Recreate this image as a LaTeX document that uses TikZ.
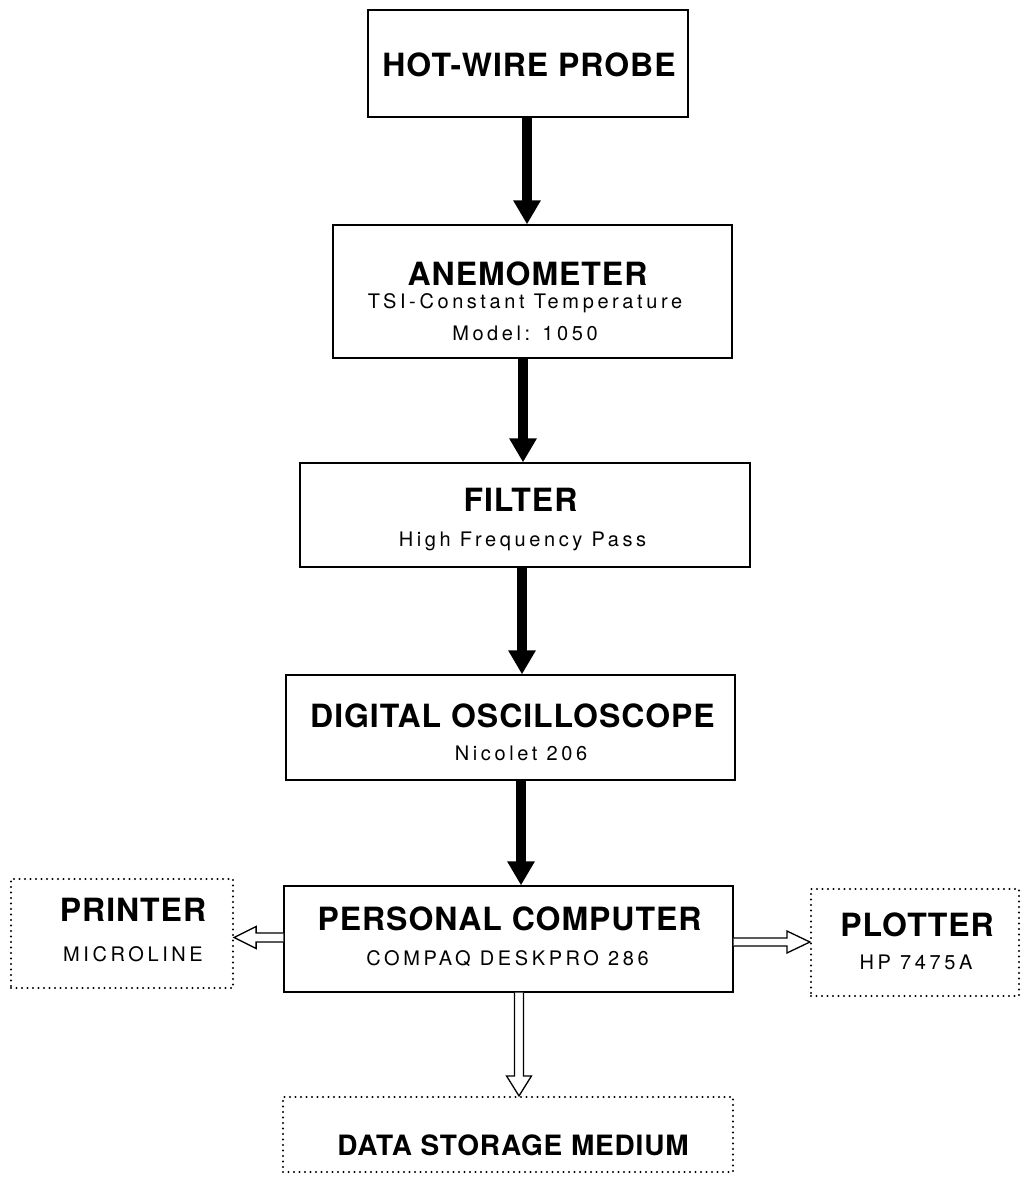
\documentclass[tikz,border=0pt]{standalone}
\usepackage{fontspec}
\setmainfont{TeX Gyre Heros}
\newfontfamily\subfont[LetterSpace=18]{TeX Gyre Heros}
\newfontfamily\ttlfont[LetterSpace=3]{TeX Gyre Heros}
\usetikzlibrary{arrows.meta,calc}
\begin{document}
\begin{tikzpicture}[x=1pt,y=-1pt,
  box/.style={draw,line width=1.3pt,inner sep=0pt,minimum width=#1},
  dotbox/.style={draw,line width=2.2pt,line cap=round,dash pattern=on 0pt off 5.5pt,inner sep=0pt,minimum width=#1},
  ttl/.style={inner sep=0pt,anchor=base,font=\ttlfont\bfseries\fontsize{32}{36}\selectfont},
  sub/.style={inner sep=0pt,anchor=base,font=\subfont\fontsize{20}{22}\selectfont},
  solidarrow/.style={line width=10pt,-{Triangle[width=26pt,length=24pt]}},
  hollow/.style={draw,line width=1.3pt,line join=miter,fill=white}
]
\useasboundingbox (0,0) rectangle (1021,1177);
% boxes
\node[box=320pt,minimum height=107pt] (probe) at (528,63.5) {};
\node[box=399pt,minimum height=133pt] (anem) at (532.5,291.5) {};
\node[box=450pt,minimum height=104pt] (filter) at (525,515) {};
\node[box=449pt,minimum height=105pt] (osc) at (510.5,727.5) {};
\node[box=449pt,minimum height=106pt] (pc) at (508.5,939) {};
\node[dotbox=222pt,minimum height=109pt] (printer) at (122,933.5) {};
\node[dotbox=208pt,minimum height=107pt] (plotter) at (915,942.5) {};
\node[dotbox=450pt,minimum height=75pt] (store) at (508,1134.5) {};
% texts
\node[ttl] (t1) at (529,76.7) {HOT-WIRE PROBE};
\node[ttl] (t2) at (527.5,285.5) {ANEMOMETER};
\node[sub] (s2a) at (525,308.5) {TSI-Constant Temperature};
\node[sub] (s2b) at (525,340) {Model: 1050};
\node[ttl] (t3) at (520.5,511) {FILTER};
\node[sub] (s3) at (522.5,546) {High Frequency Pass};
\node[ttl] (t4) at (512.5,727) {DIGITAL OSCILLOSCOPE};
\node[sub] (s4) at (521,760) {Nicolet 206};
\node[ttl] (t5) at (509.5,930) {PERSONAL COMPUTER};
\node[sub] (s5) at (507.5,965) {COMPAQ DESKPRO 286};
\node[ttl] (t6) at (133,921.7) {PRINTER};
\node[sub] (s6) at (133,961.7) {MICROLINE};
\node[ttl] (t7) at (917,936.7) {PLOTTER};
\node[sub] (s7) at (916,969.3) {HP 7475A};
\node[ttl,font=\ttlfont\bfseries\fontsize{28}{32}\selectfont] (t8) at (513,1155) {DATA STORAGE MEDIUM};
% arrow positions
\coordinate (c1) at (527,0);
\coordinate (c2) at (523,0);
\coordinate (c3) at (522,0);
\coordinate (c4) at (521,0);
\coordinate (c5) at (519,0);
\coordinate (cL) at (0,937.5);
\coordinate (cR) at (0,942);
% solid arrows
\draw[solidarrow] (probe.south -| c1) -- (anem.north -| c1);
\draw[solidarrow] (anem.south -| c2) -- (filter.north -| c2);
\draw[solidarrow] (filter.south -| c3) -- (osc.north -| c3);
\draw[solidarrow] (osc.south -| c4) -- (pc.north -| c4);
% hollow arrows
\draw[hollow] ($(pc.south -| c5)+(-4.5,0)$) -- ($(store.north -| c5)+(-4.5,-20)$) -- ++(-8,0)
  -- (store.north -| c5) -- ($(store.north -| c5)+(12.5,-20)$) -- ++(-8,0) -- ($(pc.south -| c5)+(4.5,0)$);
\draw[hollow] ($(pc.west |- cL)+(0,-4.5)$) -- ($(printer.east |- cL)+(22,-4.5)$) -- ++(0,-6.5)
  -- (printer.east |- cL) -- ($(printer.east |- cL)+(22,11)$) -- ++(0,-6.5) -- ($(pc.west |- cL)+(0,4.5)$);
\draw[hollow] ($(pc.east |- cR)+(0,-4)$) -- ($(plotter.west |- cR)+(-23,-4)$) -- ++(0,-7)
  -- (plotter.west |- cR) -- ($(plotter.west |- cR)+(-23,11)$) -- ++(0,-7) -- ($(pc.east |- cR)+(0,4)$);
\end{tikzpicture}
\end{document}
